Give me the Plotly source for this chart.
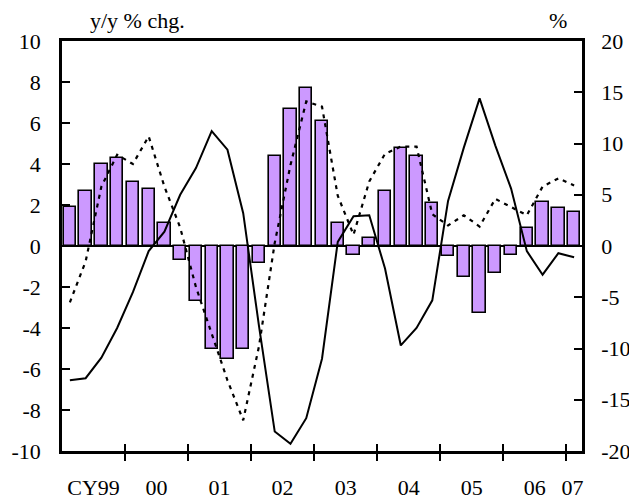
import plotly.graph_objects as go

# Quarterly data, CY1999 Q1 .. CY2007 Q1
quarters = [f"{y}Q{q}" for y in range(1999, 2008) for q in range(1, 5)][:33]

bars_yy = [1.9, 2.7, 4.0, 4.3, 3.1, 2.8, 1.1, -0.7,
           -2.7, -5.0, -5.5, -5.0, -0.85, 4.4, 6.7, 7.7,
           6.1, 1.1, -0.45, 0.4, 2.7, 4.8, 4.4, 2.1,
           -0.5, -1.5, -3.25, -1.3, -0.45, 0.9, 2.15, 1.85, 1.65]

solid_pct = [-13.1, -12.9, -10.9, -8.0, -4.5, -0.5, 1.4, 5.0,
             7.6, 11.2, 9.4, 3.2, -7.8, -18.1, -19.3, -16.8,
             -11.0, 0.4, 2.9, 3.0, -2.2, -9.7, -8.0, -5.3,
             4.4, 9.6, 14.4, 9.8, 5.6, -0.5, -2.8, -0.7, -1.1]

dashed_pct = [-5.5, -1.5, 5.8, 8.9, 8.0, 10.7, 5.8, 1.8,
              -4.0, -8.5, -13.1, -17.0, -9.8, 0.3, 7.9, 14.1,
              13.6, 4.9, 1.1, 6.3, 9.0, 9.7, 9.7, 3.1,
              2.0, 3.0, 1.9, 4.6, 3.8, 3.0, 5.8, 6.6, 5.9]

year_ticks = [2000, 2001, 2002, 2003, 2004, 2005, 2006, 2007]
label_pos = [1999.5, 2000.5, 2001.5, 2002.5, 2003.5, 2004.5, 2005.5, 2006.5, 2007.1]
label_text = ["CY99", "00", "01", "02", "03", "04", "05", "06", "07"]
left_ticks = list(range(-10, 11, 2))
left_text = [str(v) for v in left_ticks]
right_ticks = list(range(-20, 21, 5))
right_text = [str(v) for v in right_ticks]

# numeric x position of each quarter (centre of the quarter)
xq = [1999 + (i + 0.5) / 4 for i in range(len(quarters))]

FONT = "Liberation Serif"
fig = go.Figure()

fig.add_trace(go.Bar(x=xq, y=bars_yy, width=0.195,
                     marker=dict(color="#CC99FF", line=dict(color="black", width=1.6)),
                     xaxis="x", yaxis="y", showlegend=False))
fig.add_trace(go.Scatter(x=xq, y=dashed_pct, mode="lines",
                         line=dict(color="black", width=2.2, dash="4px,5px"),
                         xaxis="x", yaxis="y2", showlegend=False))
fig.add_trace(go.Scatter(x=xq, y=solid_pct, mode="lines",
                         line=dict(color="black", width=2),
                         xaxis="x", yaxis="y2", showlegend=False))
# empty helper traces so the tick-mark axes are drawn
for ax in ["x2", "x3"]:
    fig.add_trace(go.Scatter(x=[None], y=[None], xaxis=ax, yaxis="y",
                             showlegend=False, hoverinfo="skip"))

xr = [1999, 2007.25]
fig.update_layout(
    width=629, height=498,
    margin=dict(l=54, r=55, t=33, b=55, autoexpand=False),
    paper_bgcolor="white", plot_bgcolor="white",
    font=dict(family=FONT, size=22, color="black"),
    bargap=0,
    xaxis=dict(range=xr, tickmode="array", tickvals=label_pos, ticktext=label_text,
               ticks="", ticklen=0, showline=True, linecolor="black", linewidth=2.5,
               mirror=True, showgrid=False, zeroline=False, ticklabelstandoff=15,
               automargin=False, tickfont=dict(family=FONT, size=22)),
    xaxis2=dict(range=xr, overlaying="x", anchor="y", side="bottom", tickmode="array",
                tickvals=year_ticks, ticks="outside", ticklen=9, tickwidth=2,
                tickcolor="black", showticklabels=False, showline=False,
                showgrid=False, zeroline=False, automargin=False),
    xaxis3=dict(range=xr, overlaying="x", anchor="y", side="bottom", tickmode="array",
                tickvals=year_ticks, ticks="inside", ticklen=7, tickwidth=2,
                tickcolor="black", showticklabels=False, showline=False,
                showgrid=False, zeroline=False, automargin=False),
    yaxis=dict(range=[-10, 10], tickmode="array", tickvals=left_ticks, ticktext=left_text,
               ticks="inside", ticklen=8, tickwidth=2, tickcolor="black",
               showline=True, linecolor="black", linewidth=2.5,
               showgrid=False, zeroline=True, zerolinecolor="black", zerolinewidth=2,
               ticklabelstandoff=14, automargin=False,
               tickfont=dict(family=FONT, size=22)),
    yaxis2=dict(range=[-20, 20], overlaying="y", side="right", anchor="x",
                tickmode="array", tickvals=right_ticks, ticktext=right_text,
                ticks="inside", ticklen=8, tickwidth=2, tickcolor="black",
                showline=True, linecolor="black", linewidth=2.5,
                showgrid=False, zeroline=False, ticklabelstandoff=12, automargin=False,
                tickfont=dict(family=FONT, size=22)),
    annotations=[
        dict(text="y/y % chg.", xref="paper", yref="paper", x=0.146, y=1.0,
             xanchor="center", yanchor="bottom", yshift=6, showarrow=False,
             font=dict(family=FONT, size=22)),
        dict(text="%", xref="paper", yref="paper", x=0.953, y=1.0,
             xanchor="center", yanchor="bottom", yshift=6, showarrow=False,
             font=dict(family=FONT, size=22)),
    ],
)

fig.write_html("out.html")
